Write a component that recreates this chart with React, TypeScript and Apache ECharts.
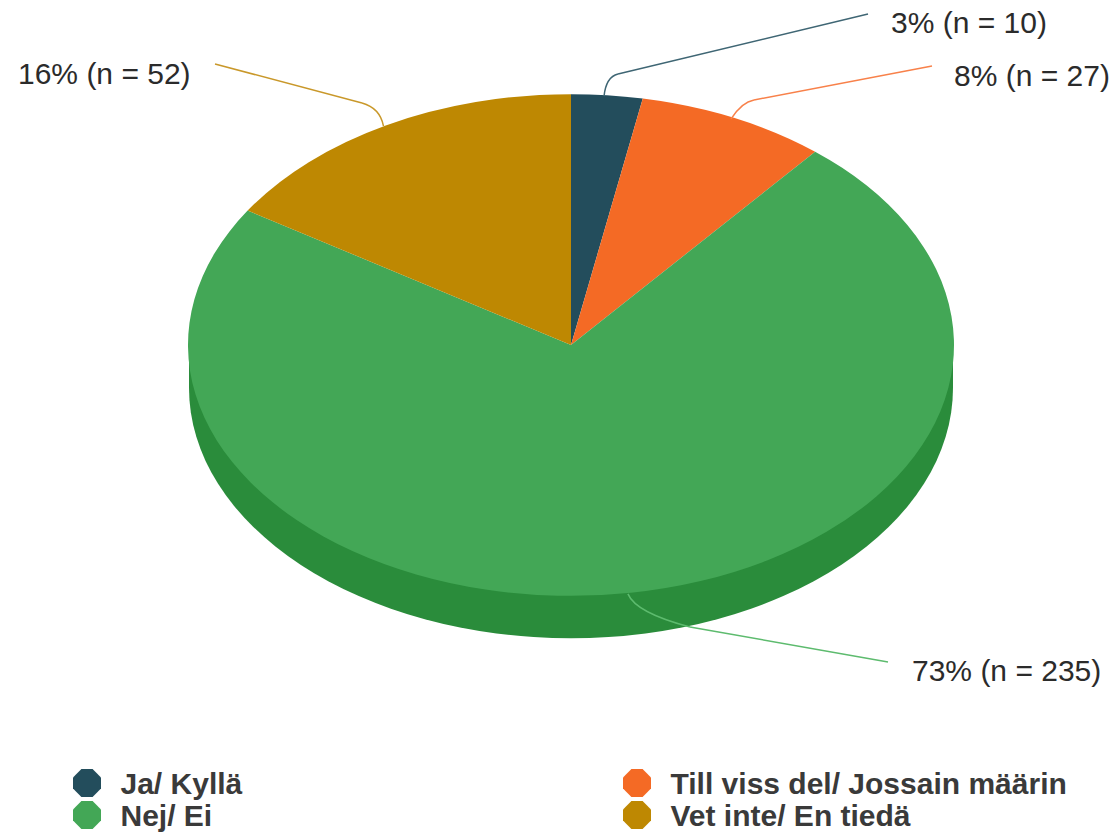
import React, { useEffect, useRef } from "react";
import * as echarts from "echarts";

const categories = ["Ja/ Kyllä", "Till viss del/ Jossain määrin", "Nej/ Ei", "Vet inte/ En tiedä"];
const counts = [10, 27, 235, 52];
const percents = [3, 8, 73, 16];
const colors = ["#234D5C", "#F46A25", "#43A756", "#BE8802"];
const leaderColors = ["#3F6674", "#F8814A", "#5DBB6E", "#C9982A"];
const total = percents.reduce((a, b) => a + b, 0);

const CX = 571;
const CY = 345;
const RX = 383;
const RY = 251;
const DEPTH = 43;
const WALL = "#2A8C3B";
const LABEL_FONT = '30px "Liberation Sans", Arial, sans-serif';
const LEGEND_ICON = "path://M3,0H7L10,3V7L7,10H3L0,7V3Z";

// control point, end of the elbow, end of the straight part
const leaderRoutes = [
  [[606, 77], [618, 74], [868, 14]],
  [[742, 102], [754, 100], [932, 66]],
  [[636, 613], [690, 627], [888, 662]],
  [[380, 108], [362, 103], [215, 64]],
];
const labelSpots = [
  [891, 22],
  [954, 75],
  [912, 670],
  [18, 73],
];
const legendSpots = [
  [73, 768],
  [623, 768],
  [73, 800],
  [623, 800],
];

function sliceRenderer(index: number) {
  return () => {
    const before = percents.slice(0, index).reduce((a, b) => a + b, 0);
    const a0 = (before / total) * Math.PI * 2;
    const a1 = ((before + percents[index]) / total) * Math.PI * 2;
    const mid = (a0 + a1) / 2;
    const children: any[] = [];
    if (a1 - a0 > Math.PI) {
      children.push({
        type: "group",
        x: CX,
        y: CY + DEPTH,
        scaleY: RY / RX,
        children: [
          {
            type: "sector",
            shape: { cx: 0, cy: 0, r0: 0, r: RX - 1, startAngle: 0, endAngle: Math.PI, clockwise: true },
            style: { fill: WALL },
          },
        ],
      });
      children.push({
        type: "rect",
        shape: { x: CX - RX + 1, y: CY, width: 2 * RX - 2, height: DEPTH },
        style: { fill: WALL },
      });
    }
    children.push({
      type: "group",
      x: CX,
      y: CY,
      scaleY: RY / RX,
      children: [
        {
          type: "sector",
          shape: {
            cx: 0,
            cy: 0,
            r0: 0,
            r: RX,
            startAngle: a0 - Math.PI / 2,
            endAngle: a1 - Math.PI / 2,
            clockwise: true,
          },
          style: { fill: colors[index] },
        },
      ],
    });
    const start = [CX + RX * Math.sin(mid) - 3, CY - RY * Math.cos(mid) + 1];
    const [ctrl, elbow, end] = leaderRoutes[index];
    children.push({
      type: "bezierCurve",
      shape: { x1: start[0], y1: start[1], cpx1: ctrl[0], cpy1: ctrl[1], x2: elbow[0], y2: elbow[1] },
      style: { stroke: leaderColors[index], lineWidth: 1.5, fill: "none" },
      z2: 5,
    });
    children.push({
      type: "line",
      shape: { x1: elbow[0], y1: elbow[1], x2: end[0], y2: end[1] },
      style: { stroke: leaderColors[index], lineWidth: 1.5 },
      z2: 5,
    });
    children.push({
      type: "text",
      x: labelSpots[index][0],
      y: labelSpots[index][1],
      style: {
        text: `${percents[index]}% (n = ${counts[index]})`,
        font: LABEL_FONT,
        fill: "#2B2B2B",
        textVerticalAlign: "middle",
      },
      z2: 6,
    });
    return { type: "group", children };
  };
}

export default function App() {
  const ref = useRef<HTMLDivElement>(null);
  useEffect(() => {
    const chart = echarts.init(ref.current!, null, { renderer: "svg" });
    chart.setOption({
      animation: false,
      backgroundColor: "#FFFFFF",
      legend: categories.map((name, i) => ({
        left: legendSpots[i][0],
        top: legendSpots[i][1],
        data: [name],
        icon: LEGEND_ICON,
        itemWidth: 31,
        itemHeight: 28,
        padding: 0,
        selectedMode: false,
        textStyle: {
          fontFamily: '"Liberation Sans", Arial, sans-serif',
          fontWeight: "bold",
          fontSize: 30,
          color: "#3A3A3A",
          padding: [0, 0, 0, 13],
        },
      })),
      series: categories.map((name, i) => ({
        type: "custom",
        name,
        coordinateSystem: "none",
        data: [percents[i]],
        itemStyle: { color: colors[i] },
        renderItem: sliceRenderer(i),
        silent: true,
      })),
    });
    return () => chart.dispose();
  }, []);
  return <div ref={ref} style={{ position: "fixed", left: 0, top: 0, width: 1118, height: 832 }} />;
}
